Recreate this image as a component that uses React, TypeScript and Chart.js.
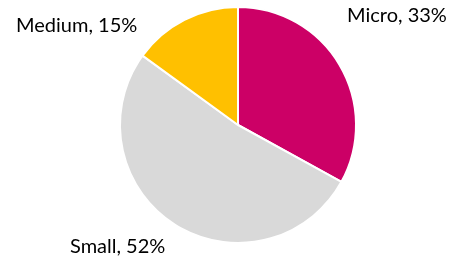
import React, { useEffect, useRef } from "react";
import { Chart, registerables } from "chart.js";

Chart.register(...registerables);

const categories = ["Micro", "Small", "Medium"];
const values = [33, 52, 15];
const colors = ["#CC0066", "#D9D9D9", "#FFC000"];
// label anchor offsets relative to pie center (in px), left-aligned, baseline
const labelOffsets = [
  [109, -103],
  [-168, 128],
  [-222, -93],
];

const labelPlugin = {
  id: "outsideLabels",
  afterDraw(chart: any) {
    const ctx = chart.ctx;
    const meta = chart.getDatasetMeta(0);
    ctx.save();
    ctx.font = "20px Lato";
    ctx.fillStyle = "#000000";
    ctx.textAlign = "left";
    ctx.textBaseline = "alphabetic";
    meta.data.forEach((arc: any, i: number) => {
      const text = `${categories[i]}, ${values[i]}%`;
      ctx.fillText(text, arc.x + labelOffsets[i][0], arc.y + labelOffsets[i][1]);
    });
    ctx.restore();
  },
};

export default function App() {
  const ref = useRef<HTMLCanvasElement | null>(null);
  useEffect(() => {
    if (!ref.current) return;
    const chart = new Chart(ref.current, {
      type: "pie",
      data: {
        labels: categories,
        datasets: [
          {
            data: values,
            backgroundColor: colors,
            borderColor: "#FFFFFF",
            borderWidth: 2,
          },
        ],
      },
      options: {
        animation: false,
        responsive: false,
        maintainAspectRatio: false,
        layout: { padding: { left: 119, right: 93, top: 6, bottom: 17 } },
        plugins: {
          legend: { display: false },
          tooltip: { enabled: false },
        },
      },
      plugins: [labelPlugin],
    });
    return () => chart.destroy();
  }, []);
  return (
    <div style={{ position: "absolute", left: 0, top: 0, width: 450, height: 261, background: "#fff" }}>
      <canvas ref={ref} width={450} height={261} style={{ width: 450, height: 261 }} />
    </div>
  );
}
